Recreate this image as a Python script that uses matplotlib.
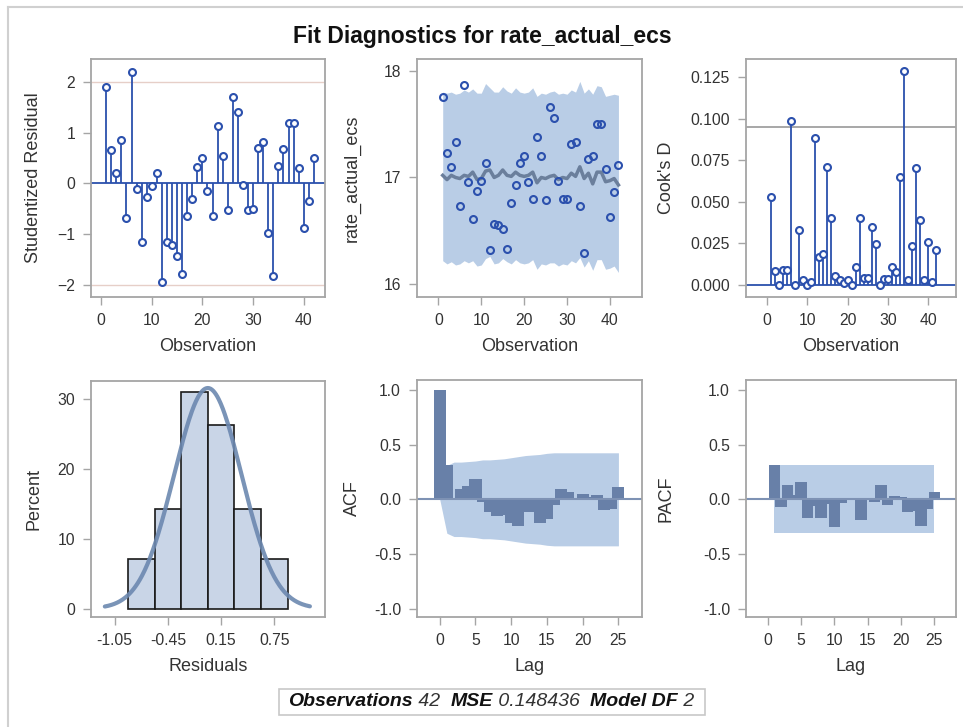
import numpy as np
import matplotlib
matplotlib.use("Agg")
import matplotlib.pyplot as plt
from matplotlib.lines import Line2D
from matplotlib.patches import Rectangle

plt.rcParams['font.family'] = ['Liberation Sans', 'DejaVu Sans']

# ---- data ----
obs = np.arange(1, 43)

stud_resid = [1.90, 0.65, 0.20, 0.85, -0.68, 2.20, -0.12, -1.15, -0.27, -0.06,
              0.20, -1.94, -1.15, -1.22, -1.43, -1.78, -0.65, -0.30, 0.32, 0.50,
              -0.15, -0.65, 1.12, 0.53, -0.53, 1.70, 1.40, -0.03, -0.53, -0.50,
              0.70, 0.82, -0.97, -1.82, 0.35, 0.68, 1.18, 1.18, 0.30, -0.89,
              -0.35, 0.50]

actual = [17.75, 17.23, 17.10, 17.33, 16.73, 17.87, 16.96, 16.61, 16.875, 16.97,
          17.14, 16.32, 16.56, 16.55, 16.52, 16.33, 16.76, 16.93, 17.14, 17.20,
          16.96, 16.80, 17.38, 17.20, 16.79, 17.66, 17.56, 16.97, 16.80, 16.80,
          17.31, 17.33, 16.73, 16.29, 17.175, 17.20, 17.50, 17.50, 17.075, 16.63,
          16.86, 17.12]

predicted = [17.02, 16.98, 17.02, 17.00, 16.99, 17.02, 17.01, 17.05, 16.98, 16.99,
             17.06, 17.07, 17.00, 17.02, 17.07, 17.02, 17.01, 17.05, 17.02, 17.01,
             17.02, 17.05, 16.95, 17.00, 16.99, 17.01, 17.02, 16.98, 17.00, 16.99,
             17.04, 17.01, 17.10, 16.99, 17.04, 16.94, 17.05, 17.05, 16.96, 16.97,
             16.99, 16.93]

pred_upper = [17.80, 17.79, 17.80, 17.78, 17.79, 17.82, 17.80, 17.83, 17.79, 17.79,
              17.88, 17.84, 17.80, 17.80, 17.85, 17.81, 17.79, 17.84, 17.80, 17.79,
              17.80, 17.84, 17.76, 17.79, 17.78, 17.80, 17.81, 17.78, 17.79, 17.78,
              17.82, 17.80, 17.90, 17.79, 17.83, 17.78, 17.86, 17.85, 17.76, 17.77,
              17.78, 17.77]

pred_lower = [16.22, 16.19, 16.21, 16.18, 16.19, 16.22, 16.20, 16.22, 16.17, 16.18,
              16.24, 16.26, 16.19, 16.20, 16.24, 16.21, 16.19, 16.23, 16.20, 16.19,
              16.20, 16.23, 16.14, 16.19, 16.18, 16.20, 16.20, 16.17, 16.19, 16.18,
              16.22, 16.20, 16.25, 16.16, 16.22, 16.13, 16.23, 16.23, 16.14, 16.15,
              16.17, 16.11]

cooks_d = [0.0529, 0.0082, 0.0, 0.0092, 0.0090, 0.0986, 0.0, 0.0329, 0.0028, 0.0,
           0.0020, 0.0883, 0.0168, 0.0184, 0.0711, 0.0400, 0.0056, 0.0028, 0.0012, 0.0028,
           0.0, 0.0108, 0.0400, 0.0044, 0.0044, 0.0347, 0.0246, 0.0, 0.0036, 0.0036,
           0.0110, 0.0080, 0.0647, 0.1284, 0.0028, 0.0236, 0.0703, 0.0393, 0.0028, 0.0256,
           0.0018, 0.0208]
cooks_cutoff = 4 / 42

hist_centers = [-0.75, -0.45, -0.15, 0.15, 0.45, 0.75]
hist_counts = [3, 6, 13, 11, 6, 3]
hist_ticks = [-1.05, -0.45, 0.15, 0.75]
resid_mean = 0.0
resid_sd = 0.38

lags = np.arange(0, 26)
acf = [1.0, 0.31, 0.01, 0.094, 0.124, 0.19, -0.027, -0.12, -0.15, -0.14,
       -0.22, -0.24, -0.12, -0.12, -0.215, -0.18, -0.05, 0.094, 0.063, -0.01,
       0.05, 0.025, 0.04, -0.10, -0.09, 0.11]
acf_band = [0.0, 0.31, 0.34, 0.34, 0.345, 0.35, 0.36, 0.36, 0.365, 0.37,
            0.38, 0.39, 0.40, 0.405, 0.41, 0.42, 0.425, 0.425, 0.425, 0.425,
            0.425, 0.425, 0.425, 0.425, 0.425, 0.425]

pacf_lags = np.arange(1, 26)
pacf = [0.31, -0.07, 0.13, 0.04, 0.16, -0.17, -0.06, -0.17, -0.04, -0.25,
        -0.03, -0.01, 0.0, -0.19, 0.01, -0.02, 0.13, -0.05, 0.03, 0.02,
        -0.115, -0.11, -0.24, -0.09, 0.065]
pacf_band = 0.309

# ---- styling ----
W, H = 963, 727
BLUE = '#2B50AD'
BAND = '#B9CDE6'
BAR = '#6880A8'
SPINE = '#A5A5A5'
TXT = '#333333'
# y label centre per column (pixels), SAS aligns them within a column
YLAB_X = [35, 354, 668]

fig = plt.figure(figsize=(W / 100, H / 100), dpi=100)


def make_ax(l, r, t, b):
    ax = fig.add_axes([l / W, 1 - b / H, (r - l) / W, (b - t) / H])
    for s in ax.spines.values():
        s.set_color(SPINE)
        s.set_linewidth(1.3)
    ax.tick_params(colors=SPINE, labelcolor=TXT, labelsize=11.3, length=6, width=1, pad=5.5)
    return ax


def label(ax, xl, yl, col):
    ax.set_xlabel(xl, fontsize=13, color=TXT, labelpad=7)
    ax.set_ylabel(yl, fontsize=13, color=TXT)
    ax.yaxis.set_label_coords((YLAB_X[col] + 7) / W, 0.5, transform=fig.transFigure)
    ax.yaxis.label.set_y(0.5)


def center_ylabel(ax, t, b):
    x, _ = ax.yaxis.label.get_position()
    ax.yaxis.label.set_position((x, 1 - (t + b) / 2 / H))


# Studentized residual
ax1 = make_ax(91, 325, 59, 297)
ax1.axhline(2, color='#E6CFC8', lw=1)
ax1.axhline(-2, color='#E6CFC8', lw=1)
ax1.axhline(0, color=BLUE, lw=1.3)
ax1.vlines(obs, 0, stud_resid, color=BLUE, lw=1.3)
ax1.plot(obs, stud_resid, 'o', ms=5, mfc='white', mec=BLUE, mew=1.5)
ax1.set_xlim(-2, 44.2)
ax1.set_ylim(-2.24, 2.45)
ax1.set_xticks([0, 10, 20, 30, 40])
ax1.set_yticks([-2, -1, 0, 1, 2])
label(ax1, 'Observation', 'Studentized Residual', 0)
center_ylabel(ax1, 59, 297)

# Actual vs predicted with prediction band
ax2 = make_ax(417, 642, 59, 297)
ax2.fill_between(obs, pred_lower, pred_upper, color=BAND, lw=0)
ax2.plot(obs, predicted, color='#6B7F9C', lw=2.5)
ax2.plot(obs, actual, 'o', ms=5, mfc='none', mec=BLUE, mew=1.5)
ax2.set_xlim(-5, 47.5)
ax2.set_ylim(15.88, 18.11)
ax2.set_xticks([0, 10, 20, 30, 40])
ax2.set_yticks([16, 17, 18])
label(ax2, 'Observation', 'rate_actual_ecs', 1)
center_ylabel(ax2, 59, 297)

# Cook's D
ax3 = make_ax(746, 956, 59, 297)
ax3.axhline(cooks_cutoff, color='#A0A0A0', lw=1.3)
ax3.axhline(0, color=BLUE, lw=1.3)
ax3.vlines(obs, 0, cooks_d, color=BLUE, lw=1.3)
ax3.plot(obs, cooks_d, 'o', ms=5, mfc='white', mec=BLUE, mew=1.5)
ax3.set_xlim(-5.2, 46.9)
ax3.set_ylim(-0.0072, 0.1358)
ax3.set_xticks([0, 10, 20, 30, 40])
ax3.set_yticks([0, 0.025, 0.05, 0.075, 0.1, 0.125])
ax3.yaxis.set_major_formatter(matplotlib.ticker.FormatStrFormatter('%.3f'))
label(ax3, 'Observation', "Cook's D", 2)
center_ylabel(ax3, 59, 297)

# Residual histogram with normal curve
ax4 = make_ax(91, 325, 381, 617)
pct = np.array(hist_counts) / sum(hist_counts) * 100
bw = hist_centers[1] - hist_centers[0]
ax4.bar(hist_centers, pct, width=bw, color='#C9D5E7', edgecolor='#1A1A1A', lw=1.2)
xs = np.linspace(-1.16, 1.15, 300)
dens = bw * 100 * np.exp(-0.5 * ((xs - resid_mean) / resid_sd) ** 2) / (resid_sd * np.sqrt(2 * np.pi))
ax4.plot(xs, dens, color='#6C88B0', lw=3, alpha=0.9, solid_capstyle='round')
ax4.set_xlim(-1.316, 1.32)
ax4.set_ylim(-1.2, 32.5)
ax4.set_xticks(hist_ticks)
ax4.set_xticklabels(['%.2f' % t for t in hist_ticks])
ax4.set_yticks([0, 10, 20, 30])
label(ax4, 'Residuals', 'Percent', 0)
center_ylabel(ax4, 381, 617)

# ACF (SAS draws wide, overlapping bars)
ax5 = make_ax(417, 642, 380, 617)
ax5.fill_between(lags, -np.array(acf_band), acf_band, color=BAND, lw=0)
ax5.axhline(0, color='#7E92B4', lw=1.5)
ax5.bar(lags, acf, width=1.7, color=BAR, lw=0)
ax5.set_xlim(-3.18, 28.3)
ax5.set_ylim(-1.075, 1.09)
ax5.set_xticks([0, 5, 10, 15, 20, 25])
ax5.set_yticks([-1.0, -0.5, 0.0, 0.5, 1.0])
ax5.yaxis.set_major_formatter(matplotlib.ticker.FormatStrFormatter('%.1f'))
label(ax5, 'Lag', 'ACF', 1)
center_ylabel(ax5, 380, 617)

# PACF
ax6 = make_ax(746, 956, 380, 617)
ax6.fill_between([pacf_lags[0], pacf_lags[-1]], -pacf_band, pacf_band, color=BAND, lw=0)
ax6.axhline(0, color='#7E92B4', lw=1.5)
ax6.bar(pacf_lags, pacf, width=1.7, color=BAR, lw=0)
ax6.set_xlim(-3.24, 28.24)
ax6.set_ylim(-1.075, 1.09)
ax6.set_xticks([0, 5, 10, 15, 20, 25])
ax6.set_yticks([-1.0, -0.5, 0.0, 0.5, 1.0])
ax6.yaxis.set_major_formatter(matplotlib.ticker.FormatStrFormatter('%.1f'))
label(ax6, 'Lag', 'PACF', 2)
center_ylabel(ax6, 380, 617)

# title and outer frame
fig.text(482 / W, 1 - 36 / H, 'Fit Diagnostics for rate_actual_ecs', ha='center', va='center',
         fontsize=16.5, fontweight='bold', color='#111111')
fig.add_artist(Line2D([8 / W, 8 / W], [0, 1 - 7 / H], color='#D0D0D0', lw=1.5))
fig.add_artist(Line2D([8 / W, 1], [1 - 7 / H, 1 - 7 / H], color='#D0D0D0', lw=1.5))

# footer statistics box
pieces = [('Observations', True), (' 42  ', False), ('MSE', True), (' 0.148436  ', False),
          ('Model DF', True), (' 2', False)]
fig.canvas.draw()
rend = fig.canvas.get_renderer()
x = 0
ty = 1 - 702 / H
texts = []
for s, bold in pieces:
    t = fig.text(x, ty, s, fontsize=14, style='italic', fontweight='bold' if bold else 'normal',
                 color='#111111' if bold else '#333333', va='center', ha='left')
    bb = t.get_window_extent(rend)
    texts.append(t)
    x += bb.width / W
total = x
x0 = 491 / W - total / 2
for t in texts:
    t.set_x(t.get_position()[0] + x0)
fig.add_artist(Rectangle((279 / W, 1 - 715 / H), (705 - 279) / W, 26 / H,
                         transform=fig.transFigure, fill=False, ec='#C8C8C8', lw=1.2))

fig.savefig('out.png', dpi=100)
